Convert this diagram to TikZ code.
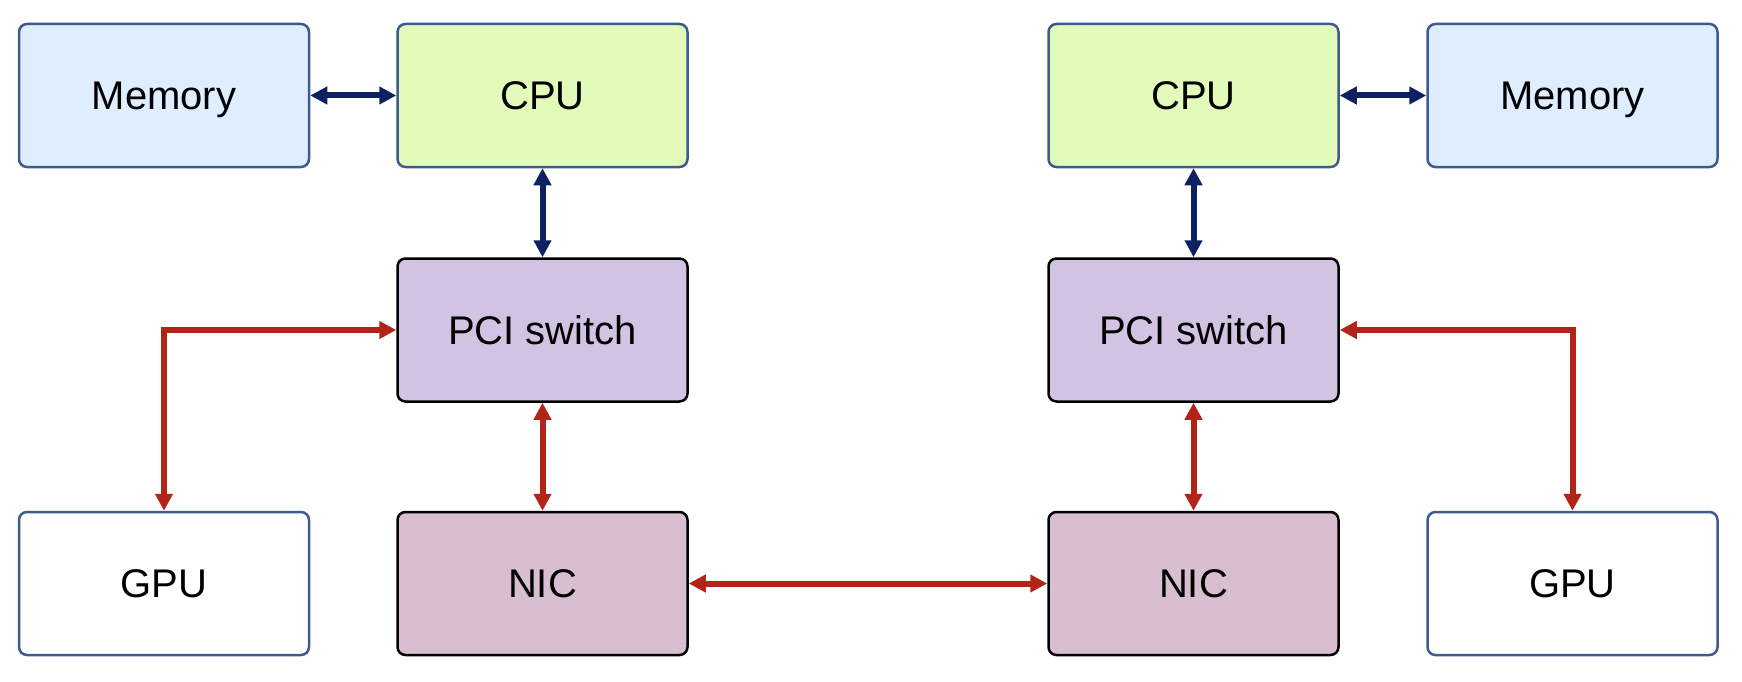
\documentclass[tikz,border=0pt]{standalone}
\usepackage{fontspec}
\setmainfont{Liberation Sans}
\usetikzlibrary{arrows.meta}
\definecolor{memfill}{HTML}{DEEEFF}
\definecolor{cpufill}{HTML}{E2FBBB}
\definecolor{pcifill}{HTML}{D3C3E3}
\definecolor{nicfill}{HTML}{D9BDD0}
\definecolor{blueedge}{HTML}{3E5A8F}
\definecolor{darkblue}{HTML}{0C2260}
\definecolor{darkred}{HTML}{B22418}
\tikzset{
  box/.style={rounded corners=8pt, line width=2.5pt, minimum width=290pt, minimum height=143pt, inner sep=0pt, text depth=0pt, font=\fontsize{40}{46}\selectfont, text=black},
  membox/.style={box, draw=blueedge, fill=memfill},
  cpubox/.style={box, draw=blueedge, fill=cpufill},
  gpubox/.style={box, draw=blueedge, fill=white},
  pcibox/.style={box, draw=black, fill=pcifill},
  nicbox/.style={box, draw=black, fill=nicfill},
  blink/.style={line width=6pt, draw=darkblue, {Triangle[length=17pt,width=17pt]}-{Triangle[length=17pt,width=17pt]}},
  rlink/.style={line width=6pt, draw=darkred, {Triangle[length=17pt,width=17pt]}-{Triangle[length=17pt,width=17pt]}}
}
\begin{document}
\begin{tikzpicture}[x=1pt,y=-1pt]
\useasboundingbox (0,0) rectangle (1742,682);
\node[membox] (mem1) at (164,95.5) {Memory};
\node[cpubox] (cpu1) at (542.5,95.5) {CPU};
\node[pcibox] (pci1) at (542.5,330) {PCI switch};
\node[gpubox] (gpu1) at (164,583.5) {GPU};
\node[nicbox] (nic1) at (542.5,583.5) {NIC};
\node[cpubox] (cpu2) at (1193.5,95.5) {CPU};
\node[membox] (mem2) at (1572.5,95.5) {Memory};
\node[pcibox] (pci2) at (1193.5,330) {PCI switch};
\node[nicbox] (nic2) at (1193.5,583.5) {NIC};
\node[gpubox] (gpu2) at (1572.5,583.5) {GPU};
\draw[blink] (mem1) -- (cpu1);
\draw[blink] (cpu1) -- (pci1);
\draw[rlink] (pci1) -- (nic1);
\draw[rlink] (pci1.west) -| (gpu1.north);
\draw[rlink] (nic1) -- (nic2);
\draw[blink] (cpu2) -- (mem2);
\draw[blink] (cpu2) -- (pci2);
\draw[rlink] (pci2) -- (nic2);
\draw[rlink] (pci2.east) -| (gpu2.north);
\end{tikzpicture}
\end{document}
